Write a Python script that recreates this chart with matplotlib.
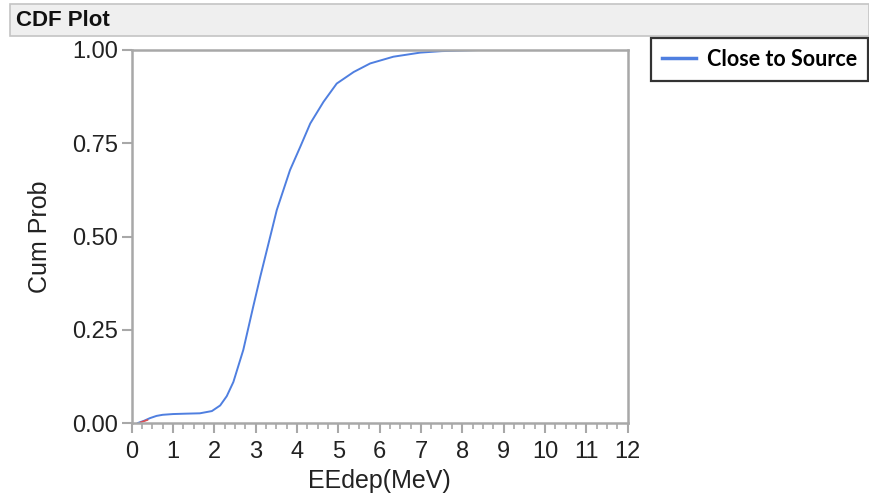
import matplotlib as mpl
mpl.use('Agg')
import matplotlib.pyplot as plt
from matplotlib.patches import Rectangle
from matplotlib.ticker import MultipleLocator

# values
eedep = [0.15, 0.30, 0.44, 0.60, 0.75, 1.0, 1.3, 1.65, 1.94, 2.14, 2.30, 2.46, 2.70,
         2.94, 3.11, 3.39, 3.51, 3.83, 4.08, 4.32, 4.64, 4.96, 5.37, 5.77, 6.33,
         6.98, 7.5, 8.11, 8.4]
cum_prob = [0.0, 0.006, 0.013, 0.019, 0.022, 0.024, 0.025, 0.026, 0.032, 0.047, 0.072,
            0.110, 0.196, 0.312, 0.392, 0.517, 0.571, 0.678, 0.741, 0.803, 0.861,
            0.910, 0.941, 0.964, 0.982, 0.993, 0.997, 0.999, 1.0]
red_x = [0.22, 0.38]
red_y = [0.002, 0.008]

x_ticks = list(range(0, 13))
y_ticks = [0.0, 0.25, 0.5, 0.75, 1.0]
y_labels = ['0.00', '0.25', '0.50', '0.75', '1.00']

W, H = 869, 501
fig = plt.figure(figsize=(W / 100, H / 100), dpi=100)
plt.rcParams['font.family'] = ['Liberation Sans', 'DejaVu Sans']

# header bar
fig.patches.append(Rectangle((10 / W, 1 - 36 / H), (W - 10) / W, 32 / H,
                             transform=fig.transFigure, facecolor='#efefef',
                             edgecolor='#c4c4c4', linewidth=1.2))
fig.text(16 / W, 1 - 20.5 / H, 'CDF Plot', fontsize=16, fontweight='bold',
         va='center', ha='left', color='#111111')

ax = fig.add_axes([131.7 / W, 78 / H, 496 / W, 373 / H])
ax.plot(eedep, cum_prob, color='#4f7fe0', linewidth=1.4, label='Close to Source')
ax.plot(red_x, red_y, color='#e05050', linewidth=1.2)

ax.set_xlim(0, 12)
ax.set_ylim(0, 1)
ax.set_xticks(x_ticks)
ax.xaxis.set_minor_locator(MultipleLocator(0.25))
ax.set_yticks(y_ticks)
ax.set_yticklabels(y_labels)

for s in ax.spines.values():
    s.set_color('#a8a8a8')
    s.set_linewidth(1.8)
ax.tick_params(axis='both', which='major', length=7, width=1.5, color='#a8a8a8',
               labelsize=17, labelcolor='#222222')
ax.tick_params(axis='x', which='major', pad=6)
ax.tick_params(axis='y', which='major', pad=3)
ax.tick_params(axis='x', which='minor', length=4, width=1.2, color='#a8a8a8')
ax.set_xlabel('EEdep(MeV)', fontsize=18, color='#222222', labelpad=4)
ax.set_ylabel('Cum Prob', fontsize=18, color='#222222', labelpad=14)

leg = fig.legend(loc='upper left', bbox_to_anchor=(651 / W, 1 - 38 / H),
                 prop={'family': 'Lato', 'weight': 'bold', 'size': 15.5},
                 frameon=True, fancybox=False, handlelength=1.6, borderpad=0.5,
                 handletextpad=0.5, borderaxespad=0)
leg.get_frame().set_edgecolor('black')
leg.get_frame().set_linewidth(1.6)
for l in leg.get_lines():
    l.set_linewidth(2.5)

fig.savefig('out.png', dpi=100)
